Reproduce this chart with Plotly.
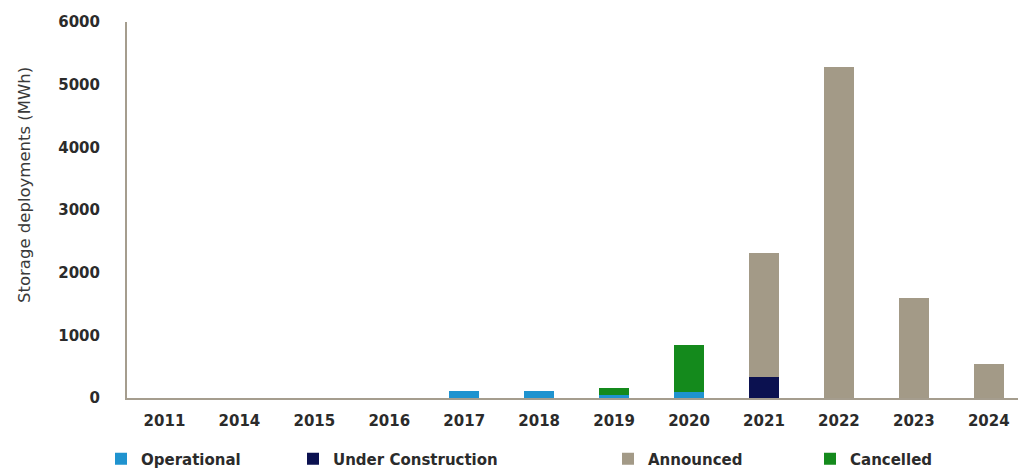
import plotly.graph_objects as go

years = ["2011", "2014", "2015", "2016", "2017", "2018", "2019", "2020", "2021", "2022", "2023", "2024"]
operational = [0, 0, 0, 0, 110, 110, 40, 100, 0, 0, 0, 0]
under_construction = [0, 0, 0, 0, 0, 0, 0, 0, 340, 0, 0, 0]
announced = [0, 0, 0, 0, 0, 0, 0, 0, 1970, 5280, 1595, 545]
cancelled = [0, 0, 0, 0, 0, 0, 120, 745, 0, 0, 0, 0]

series = [
    ("Operational", operational, "#1f93cf", "legend"),
    ("Under Construction", under_construction, "#0b1150", "legend2"),
    ("Announced", announced, "#a39a87", "legend3"),
    ("Cancelled", cancelled, "#148a1c", "legend4"),
]

W, H = 1018, 468
ML, MR, MT, MB = 127, 0, 22, 70
pw = W - ML - MR
ph = H - MT - MB

FONT = "DejaVu Sans, Arial, sans-serif"
TXT = "#2b2b2b"

fig = go.Figure()
for name, vals, color, lg in series:
    fig.add_trace(go.Bar(x=years, y=vals, name=name, marker=dict(color=color, line=dict(width=0)),
                         legend=lg, showlegend=True))

text_starts = [141, 333, 648, 850]
legend_font = dict(family=FONT, size=15, color=TXT, weight="bold")
legend_center_px = 459


def lg_layout(px):
    return dict(x=(px - 40 - ML) / pw, xanchor="left",
                yref="container", y=(H - legend_center_px) / H, yanchor="middle",
                orientation="h", font=legend_font, bgcolor="rgba(0,0,0,0)",
                itemwidth=30, tracegroupgap=0, visible=True)


fig.update_layout(
    width=W, height=H,
    margin=dict(l=ML, r=MR, t=MT, b=MB, autoexpand=False),
    barmode="stack",
    bargap=0.6,
    showlegend=True,
    plot_bgcolor="white", paper_bgcolor="white",
    font=dict(family=FONT, color=TXT),
    legend=lg_layout(text_starts[0]),
    legend2=lg_layout(text_starts[1]),
    legend3=lg_layout(text_starts[2]),
    legend4=lg_layout(text_starts[3]),
    xaxis=dict(
        type="category",
        range=[-0.5, 11.39],
        automargin=False,
        showline=True, linecolor="#a59d8e", linewidth=2,
        showgrid=False, ticks="",
        tickfont=dict(family=FONT, size=15, color=TXT, weight="bold"),
        ticklabelstandoff=8,
    ),
    yaxis=dict(
        range=[0, 6000],
        automargin=False,
        tickvals=[0, 1000, 2000, 3000, 4000, 5000, 6000],
        showline=True, linecolor="#a59d8e", linewidth=2,
        showgrid=False, zeroline=False, ticks="",
        tickfont=dict(family=FONT, size=15, color=TXT, weight="bold"),
        ticklabelstandoff=22,
    ),
    annotations=[dict(
        text="Storage deployments (MWh)", textangle=-90,
        xref="paper", yref="paper",
        x=(25 - ML) / pw, y=(H - MB - 185) / ph,
        xanchor="center", yanchor="middle", showarrow=False,
        font=dict(family=FONT, size=16.5, color="#3a3a3a"),
    )],
)

fig.write_html("out.html")
